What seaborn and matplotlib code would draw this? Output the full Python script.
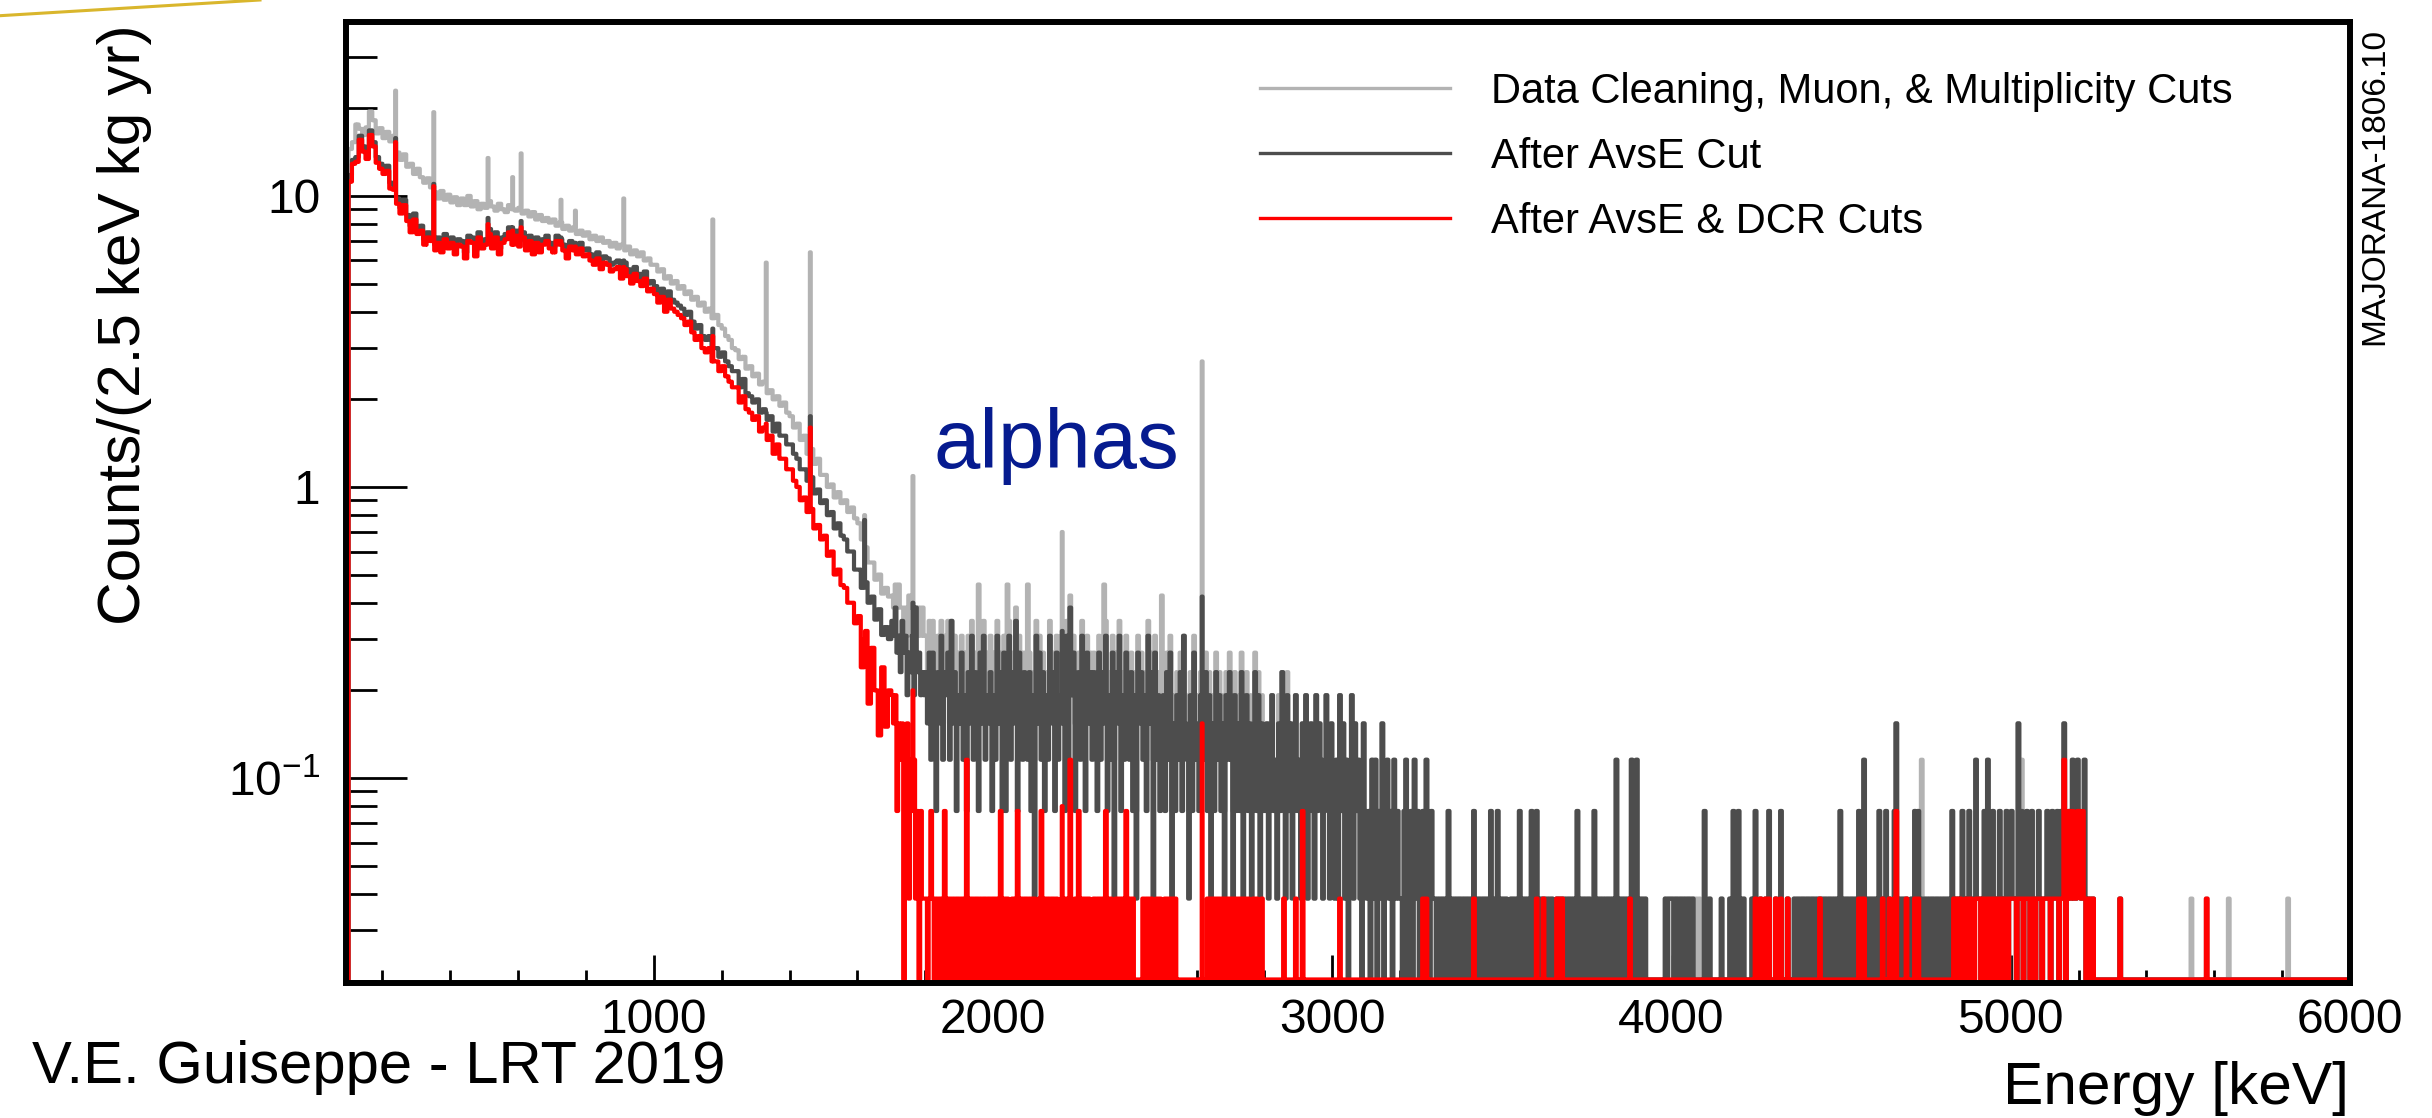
import numpy as np
import matplotlib
matplotlib.use("Agg")
import matplotlib.pyplot as plt
import seaborn as sns
from matplotlib.lines import Line2D
from matplotlib.ticker import FixedLocator, FixedFormatter, NullFormatter

plt.rcParams['font.family'] = ['Liberation Sans', 'DejaVu Sans']
plt.rcParams['mathtext.fontset'] = 'custom'
plt.rcParams['mathtext.rm'] = 'Liberation Sans'
plt.rcParams['path.simplify'] = False

# counts/(2.5 keV kg yr) read in 10 keV steps, 100 -> 1700 keV
GRAY_LOW = [14.5, 15.3, 17.6, 17.0, 16.2, 17.2, 19.5, 18.2, 16.4, 17.1,
            15.8, 16.6, 15.4, 16.1, 14.1, 13.3, 13.9, 12.6, 12.9, 11.9,
            12.4, 11.6, 11.1, 11.5, 10.7, 10.3, 9.8, 10.4, 9.7, 10.1,
            9.5, 9.9, 9.3, 9.8, 9.3, 10.0, 9.2, 9.6, 9.0, 9.4,
            9.1, 9.6, 9.2, 8.9, 9.4, 9.0, 8.8, 9.3, 9.0, 8.9,
            9.1, 8.7, 8.9, 8.5, 8.8, 8.3, 8.6, 8.2, 8.4, 8.1,
            8.3, 7.9, 8.1, 7.7, 7.9, 7.6, 7.8, 7.4, 7.6, 7.3,
            7.5, 7.1, 7.3, 7.0, 7.2, 6.9, 7.0, 6.7, 6.9, 6.6,
            6.8, 6.5, 6.7, 6.3, 6.5, 6.2, 6.4, 6.0, 6.1, 5.8,
            5.8, 5.5, 5.6, 5.2, 5.3, 5.0, 5.1, 4.8, 4.9, 4.6,
            4.7, 4.4, 4.5, 4.2, 4.3, 4.0, 4.1, 3.8, 3.9, 3.6,
            3.5, 3.3, 3.2, 3.0, 2.95, 2.75, 2.8, 2.55, 2.6, 2.4,
            2.45, 2.25, 2.3, 2.1, 2.15, 2.0, 2.05, 1.9, 1.95, 1.8,
            1.75, 1.6, 1.65, 1.45, 1.5, 1.3, 1.35, 1.2, 1.25, 1.1,
            1.1, 1.0, 1.02, 0.92, 0.96, 0.88, 0.9, 0.82, 0.85, 0.78,
            0.75, 0.66, 0.62, 0.55, 0.55, 0.48, 0.5, 0.43, 0.45, 0.42]

DARK_LOW = [11.8, 13.3, 13.6, 16.1, 14.8, 14.0, 16.8, 15.3, 13.6, 12.9,
            12.4, 12.7, 11.1, 10.9, 9.8, 9.1, 9.7, 8.6, 7.9, 8.7,
            7.7, 7.9, 7.1, 7.5, 7.3, 6.8, 7.2, 6.7, 7.4, 6.9,
            7.2, 6.6, 7.1, 7.0, 6.4, 7.3, 7.2, 6.5, 7.5, 6.9,
            7.1, 7.7, 6.9, 7.5, 6.6, 7.2, 7.4, 7.8, 7.1, 7.6,
            7.0, 7.5, 6.8, 7.3, 6.6, 7.2, 6.7, 7.1, 7.3, 6.9,
            6.7, 7.3, 7.1, 6.8, 6.4, 7.0, 6.8, 6.6, 6.9, 6.5,
            6.6, 6.3, 6.1, 6.4, 5.9, 6.2, 6.1, 5.8, 5.9, 6.0,
            5.5, 5.9, 5.6, 5.3, 5.7, 5.4, 5.2, 5.5, 5.0, 5.1,
            4.9, 4.6, 4.8, 4.3, 4.7, 4.4, 4.3, 4.2, 4.1, 3.9,
            4.0, 3.7, 3.5, 3.6, 3.3, 3.2, 3.3, 3.0, 3.0, 2.8,
            2.9, 2.7, 2.6, 2.5, 2.5, 2.2, 2.35, 2.1, 2.05, 1.95,
            2.0, 1.8, 1.85, 1.7, 1.75, 1.55, 1.65, 1.5, 1.5, 1.4,
            1.4, 1.3, 1.25, 1.15, 1.15, 1.05, 1.08, 0.95, 0.98, 0.88,
            0.9, 0.8, 0.82, 0.72, 0.75, 0.68, 0.66, 0.6, 0.6, 0.52,
            0.52, 0.45, 0.47, 0.4, 0.42, 0.35, 0.38, 0.31, 0.33, 0.3]

RED_LOW = [11.2, 12.9, 13.1, 15.6, 14.2, 13.4, 16.2, 14.8, 13.0, 12.4,
           11.9, 12.2, 10.6, 10.5, 9.4, 8.7, 9.3, 8.2, 7.5, 8.3,
           7.4, 7.6, 6.8, 7.2, 7.0, 6.5, 6.9, 6.4, 7.1, 6.6,
           6.9, 6.3, 6.8, 6.7, 6.1, 7.0, 6.9, 6.2, 7.2, 6.6,
           6.8, 7.4, 6.6, 7.2, 6.3, 6.9, 7.1, 7.5, 6.8, 7.3,
           6.7, 7.2, 6.5, 7.0, 6.3, 6.9, 6.4, 6.8, 7.0, 6.6,
           6.4, 7.0, 6.8, 6.5, 6.1, 6.7, 6.5, 6.3, 6.6, 6.2,
           6.3, 6.0, 5.8, 6.1, 5.6, 5.9, 5.8, 5.5, 5.6, 5.7,
           5.2, 5.6, 5.3, 5.0, 5.4, 5.1, 4.9, 5.2, 4.7, 4.8,
           4.6, 4.3, 4.5, 4.0, 4.4, 4.1, 4.0, 3.9, 3.8, 3.6,
           3.7, 3.4, 3.2, 3.3, 3.0, 2.9, 3.0, 2.7, 2.7, 2.5,
           2.6, 2.4, 2.3, 2.2, 2.2, 1.95, 2.05, 1.85, 1.8, 1.7,
           1.75, 1.55, 1.6, 1.45, 1.5, 1.3, 1.4, 1.25, 1.25, 1.15,
           1.15, 1.05, 1.0, 0.9, 0.92, 0.82, 0.84, 0.72, 0.74, 0.66,
           0.68, 0.58, 0.6, 0.5, 0.52, 0.46, 0.45, 0.4, 0.4, 0.34,
           0.36, 0.24, 0.32, 0.18, 0.28, 0.2, 0.14, 0.24, 0.15, 0.2]

# counts per 2.5 keV bin, one base-36 digit per 5 keV, one string per 100 keV (1700 -> 6000 keV)
GRAY_HIGH = ["bacacaa9a8baa9a8a8a8", "86959738695869496847", "68573859576c86947584",
             "75967484c9576a487576", "c7463958574659674856", "87495b68457596485757",
             "64857c93658375946485", "4746285746395738463b", "63748253647385426384",
             "53674736253746352647", "42635372463524736253", "34245331526416242353",
             "32425144215343135324", "21325241312514231042", "12031302140231213121",
             "10231120312012031021", "10101101201011110101", "01021010111102101201",
             "11100110102011101201", "21010111010011010101", "01012010101110201010",
             "10101013010101013103", "10101000000000001011", "10110101011011101002",
             "01100000010000102102", "10100001020010011200", "01002000100010101101",
             "10110101101011010102", "01010110102013010111", "10201020100240101010",
             "01021203010101101010", "10110210101201021013", "11012031020112101201",
             "21104130121021012101", "12102112021401213113", "21230110100000000000",
             "00001000000000000000", "00000000000000000000", "00000010000000010000",
             "00000000100000000000", "00000000000000000000", "00010000000000000000",
             "00000000000000000000"]

DARK_HIGH = ["98a78697857685a67565", "64737526483657394625", "47352648365274835462",
             "53846272583649275364", "36251847362538462735", "46283a57246385274636",
             "52736482537164825374", "36251746352846173524", "52637142536284315273",
             "42553625142635241536", "31524261352413625142", "24135231426315241352",
             "31425134215243125314", "21315241302514231042", "12031302140231203121",
             "10230120312012031021", "10101101201010110101", "01021010110102101201",
             "10100110102010101201", "21010101010011010101", "01012010101100201010",
             "10101013010101013103", "10101000000000001011", "10110101011010000002",
             "00100000010000102102", "10100001020010010200", "01002000100010101101",
             "10110101101011010102", "01010110102013010101", "10201020100240101010",
             "01021201010101101010", "10110210101201021013", "11012031020112101201",
             "21104120121021012101", "12102112021401213113", "21230110100000000000",
             "00001000000000000000", "00000000000000000000", "00000000000000000000",
             "00000000000000000000", "00000000000000000000", "00000000000000000000",
             "00000000000000000000"]

RED_HIGH = ["54524340341323120211", "10121010110201101011", "01103101011010110101",
            "10102101100110201011", "01011001201010110100", "11010300102101011001",
            "01101021010011010120", "10100000101101001010", "01101011000000000000",
            "00000011011011010110", "10110101101001010010", "00000000000100000010",
            "00200000000000000000", "00001000000000000000", "00000000000000000000",
            "00000000000001010000", "00000000000000000000", "00010000000000000000",
            "00000000000000000000", "10001000000011010000", "00000000000000000000",
            "00000000000000010000", "00000000000000000000", "00000000000000000000",
            "00000000000000000000", "00000000010010010100", "01001000100000000000",
            "00000001000000000000", "00000000001011000000", "00001000100120000010",
            "00010100000000000000", "00000010101001011001", "11011011010101101101",
            "11101110111011011101", "11101111011301212112", "21210110100000000000",
            "00001000000000000000", "00000000000000000000", "00000000000000010000",
            "00000000000000000000", "00000000000000000000", "00000000000000000000",
            "00000000000000000000"]

UNIT = 0.0385  # one count in counts/(2.5 keV kg yr)

# gamma lines (single 2.5 keV bins)
PEAK_E = [238, 352, 511, 583, 609, 727, 768, 911, 1173, 1332, 1460, 1620, 1764, 2204, 2615]
PEAK_GRAY = [23.0, 19.4, 13.5, 11.6, 14.0, 9.7, 8.9, 9.8, 8.3, 5.9, 6.4, 0.8, 1.09, 0.70, 2.70]
PEAK_DARK = [15.8, 11.0, 8.4, 7.8, 8.2, 7.2, 6.9, 6.0, 3.5, 1.8, 1.75, 0.77, 0.40, 0.32, 0.42]
PEAK_RED = [15.3, 10.8, 8.0, 7.6, 7.8, 7.0, 6.7, 5.7, 3.3, 1.65, 1.6, 0.3, 0.2, 0.08, 0.154]

LABELS = ['Data Cleaning, Muon, & Multiplicity Cuts', 'After AvsE Cut', 'After AvsE & DCR Cuts']
COLORS = ['#b3b3b3', '#4d4d4d', '#ff0000']
XTICKS = [1000, 2000, 3000, 4000, 5000, 6000]

E_MIN, E_MAX, BIN = 100, 6000, 2.5
edges = np.arange(E_MIN - BIN, E_MAX + BIN / 2, BIN)  # one empty bin in front of 100 keV
centers = edges[:-1] + BIN / 2
FLOOR = 0.0203  # empty bins are drawn on the frame bottom, like ROOT does


def spectrum(low, high, peaks):
    digits = ''.join(high)
    counts = np.array([int(c, 36) for c in digits]) * UNIT
    vals = np.concatenate([[0.0], np.repeat(low, 4), np.repeat(counts, 2)])
    for e, v in zip(PEAK_E, peaks):
        vals[int((e - E_MIN) // BIN) + 1] = v
    return np.maximum(vals, FLOOR)


series = [spectrum(GRAY_LOW, GRAY_HIGH, PEAK_GRAY),
          spectrum(DARK_LOW, DARK_HIGH, PEAK_DARK),
          spectrum(RED_LOW, RED_HIGH, PEAK_RED)]

fig = plt.figure(figsize=(24.32, 11.18), dpi=100)
ax = fig.add_axes([0.1422, 0.1208, 0.8241, 0.8598])

for vals, color, label in zip(series, COLORS, LABELS):
    sns.histplot(x=centers, weights=vals, bins=edges.tolist(), element='step', fill=False,
                 color=color, linewidth=3.0, label=label, ax=ax)

ax.set_yscale('log')
ax.set_xlim(92, 6000)
ax.set_ylim(0.01975, 39.7)
ax.set_xlabel('')
ax.set_ylabel('')

ax.xaxis.set_major_locator(FixedLocator(XTICKS))
ax.xaxis.set_major_formatter(FixedFormatter([str(t) for t in XTICKS]))
ax.xaxis.set_minor_locator(FixedLocator(np.arange(200, 6000, 200)))
ax.yaxis.set_major_locator(FixedLocator([0.1, 1, 10]))
ax.yaxis.set_major_formatter(FixedFormatter([r'$\mathregular{10^{-1}}$', '1', '10']))
minors = [m * d for d in (0.01, 0.1, 1, 10) for m in range(2, 10)]
ax.yaxis.set_minor_locator(FixedLocator([m for m in minors if m < 40]))
ax.yaxis.set_minor_formatter(NullFormatter())

ax.tick_params(which='both', direction='in', top=False, right=False, width=2.0, color='black')
ax.tick_params(axis='x', which='major', length=20, pad=11, labelsize=34.5)
ax.tick_params(axis='x', which='minor', length=9.5)
ax.tick_params(axis='y', which='major', length=44, pad=18.5, labelsize=34.5)
ax.tick_params(axis='y', which='minor', length=22)
for sp in ax.spines.values():
    sp.set_linewidth(4.3)
    sp.set_color('black')

leg = ax.legend(loc='upper left', bbox_to_anchor=(1259.6 / 2432, 1 - 72 / 1118),
                bbox_transform=fig.transFigure, frameon=False, fontsize=30,
                handlelength=4.58, handletextpad=0.97, labelspacing=0.6,
                borderpad=0, borderaxespad=0)
for line in leg.get_lines():
    line.set_linewidth(2.4)

ax.text(2187, 1.16, 'alphas', ha='center', va='baseline', fontsize=60, color='#061b8f')

fig.text(125 / 2432, 1 - 325 / 1118, 'Counts/(2.5 keV kg yr)', rotation=90,
         ha='center', va='center', fontsize=43.5)
fig.text(2349 / 2432, 1 - 1104 / 1118, 'Energy [keV]', ha='right', va='baseline', fontsize=43.5)
fig.text(32 / 2432, 1 - 1083 / 1118, 'V.E. Guiseppe - LRT 2019', ha='left', va='baseline',
         fontsize=43)
fig.text(2375 / 2432, 1 - 28 / 1118, 'MAJORANA-1806.10', rotation=90, ha='center', va='top',
         fontsize=24)
fig.add_artist(Line2D([0, 260 / 2432], [1 - 15.7 / 1118, 1.0], color='#d9b62c', lw=2.2,
                      transform=fig.transFigure))

fig.savefig('out.png', dpi=100)
